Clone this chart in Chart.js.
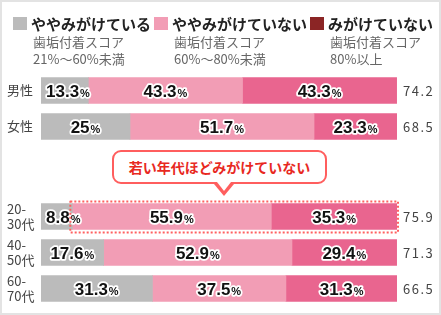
<!DOCTYPE html>
<html>
<head>
<meta charset="utf-8">
<script src="https://cdn.jsdelivr.net/npm/chart.js@4"></script>
<style>
body { margin: 0; background: #fff; }
#wrap { position: relative; width: 441px; height: 315px; overflow: hidden; background: #fff; font-family: 'Noto Sans CJK JP', sans-serif; }
#frame { position: absolute; left: 0; top: 0; width: 441px; height: 315px; box-sizing: border-box; border: 2px solid #e3e3e3; pointer-events: none; }
#chart { position: absolute; left: 0; top: 0; }
.leg { position: absolute; top: 14px; }
.leg .box { position: absolute; left: 0; top: 3px; width: 14px; height: 13px; }
.leg .name { position: absolute; left: 18px; top: 0; font-size: 15px; font-weight: bold; color: #222; white-space: nowrap; line-height: 19px; }
.leg .sub { position: absolute; left: 20px; top: 19px; font-size: 13px; color: #666; white-space: nowrap; line-height: 17px; }
#callout { position: absolute; left: 112px; top: 150px; width: 215px; height: 34px; box-sizing: border-box; border: 2px solid #ff5e5e; border-radius: 9px; background: #fff; color: #e8291f; font-size: 14px; font-weight: bold; text-align: center; line-height: 30px; white-space: nowrap; }
#callout:before { content: ''; position: absolute; left: 100px; top: 32px; border-top: 12px solid #ff5e5e; border-left: 10px solid transparent; border-right: 10px solid transparent; }
#callout:after { content: ''; position: absolute; left: 103px; top: 30px; border-top: 9px solid #fff; border-left: 7px solid transparent; border-right: 7px solid transparent; }
</style>
</head>
<body>
<div id="wrap">
    <canvas id="chart" width="441" height="315"></canvas>
    <div id="legend"></div>
    <div id="callout">若い年代ほどみがけていない</div>
    <div id="frame"></div>
</div>
<script>
// データ
const rowLabels = [['男性'], ['女性'], ['20-', '30代'], ['40-', '50代'], ['60-', '70代']];
const seriesNames = ['ややみがけている', 'ややみがけていない', 'みがけていない'];
const seriesSub = ['21%〜60%未満', '60%〜80%未満', '80%以上'];
const yayaGood = [13.3, 25, 8.8, 17.6, 31.3];
const yayaBad = [43.3, 51.7, 55.9, 52.9, 37.5];
const bad = [43.3, 23.3, 35.3, 29.4, 31.3];
const scores = [74.2, 68.5, 75.9, 71.3, 66.5];

const barColors = ['#bbbbbb', '#f29db5', '#e9658f'];
const legendColors = ['#bbbbbb', '#f29db5', '#8b2525'];
const rowY = [0, 1, 3.5, 4.5, 5.5];
const legendX = [13, 154, 310];

// 凡例
const legend = document.getElementById('legend');
seriesNames.forEach((name, i) => {
    const item = document.createElement('div');
    item.className = 'leg';
    item.style.left = legendX[i] + 'px';
    item.innerHTML = `
        <div class="box" style="background:${legendColors[i]}"></div>
        <div class="name">${name}</div>
        <div class="sub">歯垢付着スコア<br>${seriesSub[i]}</div>
    `;
    legend.appendChild(item);
});

const barText = {
    id: 'barText',
    afterDatasetsDraw(chart) {
        const ctx = chart.ctx;
        const area = chart.chartArea;
        ctx.save();
        ctx.textAlign = 'left';
        ctx.textBaseline = 'alphabetic';
        ctx.lineJoin = 'round';
        chart.data.datasets.forEach((ds, di) => {
            chart.getDatasetMeta(di).data.forEach((bar, i) => {
                const num = String(ds.data[i].x);
                ctx.font = 'bold 17px "Liberation Sans"';
                const w1 = ctx.measureText(num).width;
                ctx.font = 'bold 11px "Liberation Sans"';
                const w2 = ctx.measureText('%').width;
                const w = w1 + w2 + 1;
                let cx = (bar.x + bar.base) / 2;
                cx = Math.max(cx, area.left + 5 + w / 2);
                const x = cx - w / 2;
                const y = bar.y + 6;
                ctx.strokeStyle = '#fff';
                ctx.lineWidth = 3.5;
                ctx.fillStyle = '#111';
                ctx.font = 'bold 17px "Liberation Sans"';
                ctx.strokeText(num, x, y);
                ctx.fillText(num, x, y);
                ctx.font = 'bold 11px "Liberation Sans"';
                ctx.strokeText('%', x + w1 + 1, y);
                ctx.fillText('%', x + w1 + 1, y);
            });
        });

        // 右側のスコア
        const ys = chart.scales.y;
        ctx.font = '13px "Noto Sans CJK JP"';
        ctx.letterSpacing = '1.5px';
        ctx.fillStyle = '#444';
        ctx.textBaseline = 'middle';
        scores.forEach((s, i) => {
            ctx.fillText(s.toFixed(1), area.right + 6, ys.getPixelForValue(rowY[i]) + 1);
        });
        ctx.letterSpacing = '0px';

        // 20-30代の点線枠
        const xs = chart.scales.x;
        const cy = ys.getPixelForValue(rowY[2]);
        const x0 = xs.getPixelForValue(yayaGood[2]) - 2;
        ctx.strokeStyle = '#ff6060';
        ctx.lineWidth = 2;
        ctx.setLineDash([2, 2]);
        ctx.strokeRect(x0, cy - 15, area.right + 1 - x0, 31);
        ctx.restore();
    }
};

const sets = [yayaGood, yayaBad, bad];

new Chart(document.getElementById('chart'), {
    type: 'bar',
    data: {
        datasets: sets.map((vals, i) => ({
            label: seriesNames[i],
            data: vals.map((v, j) => ({ x: v, y: rowY[j] })),
            backgroundColor: barColors[i],
            borderWidth: 0,
            barThickness: 26
        }))
    },
    options: {
        indexAxis: 'y',
        responsive: false,
        animation: false,
        layout: { padding: { left: 7, right: 44, top: 72.5, bottom: 8.5 } },
        plugins: { legend: { display: false }, tooltip: { enabled: false } },
        scales: {
            x: { stacked: true, min: 0, max: 100, display: false },
            y: {
                type: 'linear',
                stacked: true,
                reverse: true,
                offset: false,
                min: -0.5,
                max: 6,
                grid: { display: false },
                border: { display: false },
                afterBuildTicks: s => { s.ticks = rowY.map(v => ({ value: v })); },
                afterFit: s => {
                    s.width = 34;
                    s.paddingTop = 0;
                    s.paddingBottom = 0;
                },
                ticks: {
                    crossAlign: 'far',
                    color: '#444',
                    font: { family: 'Noto Sans CJK JP', size: 13, lineHeight: 1.1 },
                    callback: (v, i) => rowLabels[i]
                }
            }
        }
    },
    plugins: [barText]
});
</script>
</body>
</html>
